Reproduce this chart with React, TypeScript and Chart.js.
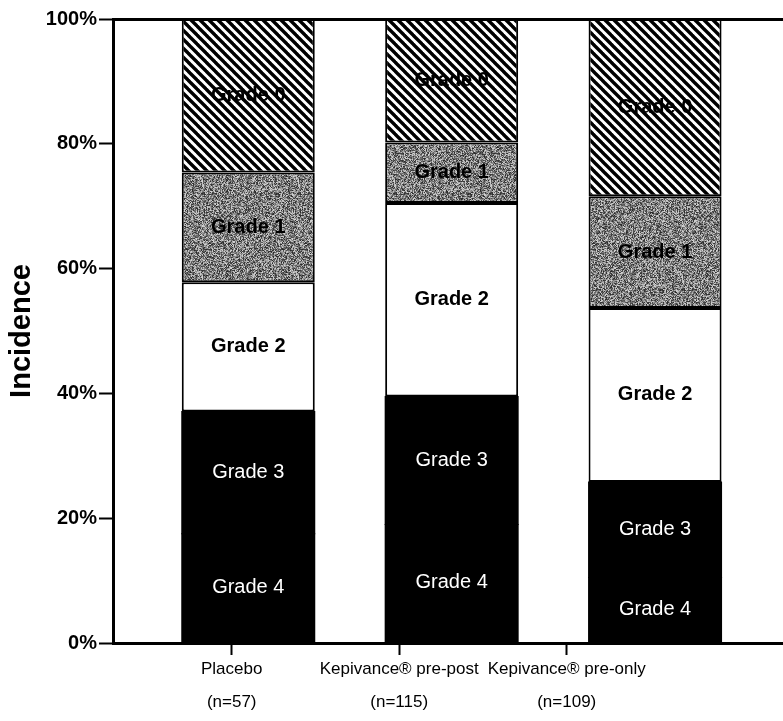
import React, { useEffect, useRef } from "react";
import { Chart, registerables } from "chart.js";

Chart.register(...registerables);

// ---- data ----
const categories = ["Placebo", "Kepivance® pre-post", "Kepivance® pre-only"];
const sampleSizes = ["(n=57)", "(n=115)", "(n=109)"];
const barPositions = [1, 2, 3];
const labelPositions = [1, 2, 3];
const gradeNames = ["Grade 4", "Grade 3", "Grade 2", "Grade 1", "Grade 0"];
const grade4 = [17.5, 19.0, 10.5];
const grade3 = [19.6, 20.5, 15.3];
const grade2 = [20.7, 31.0, 27.9];
const grade1 = [17.6, 9.7, 17.9];
const grade0 = [24.6, 19.8, 28.4];
const yTicks = [0, 20, 40, 60, 80, 100];
const yTitle = "Incidence";

const FONT = "'Liberation Sans', Arial, sans-serif";

function makeHatch(ctx: CanvasRenderingContext2D): CanvasPattern | string {
  const c = document.createElement("canvas");
  const s = 9;
  c.width = s;
  c.height = s;
  const g = c.getContext("2d");
  if (!g) return "#444";
  g.fillStyle = "#fff";
  g.fillRect(0, 0, s, s);
  g.strokeStyle = "#000";
  g.lineWidth = 3.4;
  for (const x0 of [-s, 0, s]) {
    g.beginPath();
    g.moveTo(x0 - 1, -1);
    g.lineTo(x0 + s + 1, s + 1);
    g.stroke();
  }
  return ctx.createPattern(c, "repeat") || "#444";
}

function makeSpeckle(ctx: CanvasRenderingContext2D): CanvasPattern | string {
  const c = document.createElement("canvas");
  const n = 96;
  c.width = n;
  c.height = n;
  const g = c.getContext("2d");
  if (!g) return "#888";
  const img = g.createImageData(n, n);
  let seed = 987654321;
  for (let p = 0; p < n * n; p++) {
    seed = (Math.imul(seed, 1103515245) + 12345) >>> 0;
    const r = (seed >>> 16) & 255;
    const v = Math.round(40 + r * 0.68);
    img.data[p * 4] = v;
    img.data[p * 4 + 1] = v;
    img.data[p * 4 + 2] = v;
    img.data[p * 4 + 3] = 255;
  }
  g.putImageData(img, 0, 0);
  return ctx.createPattern(c, "repeat") || "#888";
}

const segmentLabelPlugin = {
  id: "segmentLabels",
  afterDatasetsDraw(chart: any) {
    const ctx = chart.ctx as CanvasRenderingContext2D;
    chart.data.datasets.forEach((_ds: any, k: number) => {
      const meta = chart.getDatasetMeta(k);
      meta.data.forEach((el: any) => {
        const { x, y, base } = el.getProps(["x", "y", "base"], true);
        const white = k <= 1;
        ctx.save();
        ctx.font = `${white ? "normal" : "bold"} 20px ${FONT}`;
        ctx.fillStyle = white ? "#fff" : "#000";
        ctx.textAlign = "center";
        ctx.textBaseline = "middle";
        ctx.fillText(gradeNames[k], x, (y + base) / 2);
        ctx.restore();
      });
    });
  },
};

const yTitlePlugin = {
  id: "yTitle",
  afterDraw(chart: any) {
    const ctx = chart.ctx as CanvasRenderingContext2D;
    const area = chart.chartArea;
    ctx.save();
    ctx.translate(22, (area.top + area.bottom) / 2);
    ctx.rotate(-Math.PI / 2);
    ctx.font = `bold 29px ${FONT}`;
    ctx.fillStyle = "#000";
    ctx.textAlign = "center";
    ctx.textBaseline = "middle";
    ctx.fillText(yTitle, 0, 0);
    ctx.restore();
  },
};

export default function App() {
  const ref = useRef<HTMLCanvasElement | null>(null);

  useEffect(() => {
    document.body.style.margin = "0";
    const canvas = ref.current;
    if (!canvas) return;
    const ctx = canvas.getContext("2d");
    if (!ctx) return;
    const hatch = makeHatch(ctx);
    const speckle = makeSpeckle(ctx);
    const series = [grade4, grade3, grade2, grade1, grade0];
    const fills: any[] = ["#000", "#000", "#fff", speckle, hatch];

    const chart = new Chart(canvas, {
      type: "bar",
      data: {
        datasets: series.map((vals, k) => ({
          label: gradeNames[k],
          data: vals.map((v, i) => ({ x: barPositions[i], y: v })),
          backgroundColor: fills[k],
          borderColor: "#000",
          borderWidth: k <= 1 ? 0 : 2,
          borderSkipped: false,
          inflateAmount: k <= 1 ? 0.5 : 0,
          barThickness: 133,
          xAxisID: "xb",
          yAxisID: "y",
          stack: "grades",
        })),
      } as any,
      options: {
        responsive: false,
        animation: false,
        events: [],
        layout: { padding: { top: 19, right: 0, left: 0, bottom: 0 } },
        plugins: {
          legend: { display: false },
          tooltip: { enabled: false },
        },
        scales: {
          xb: {
            type: "linear",
            display: false,
            stacked: true,
            offset: false,
            grid: { offset: false },
            min: 0.335,
            max: 3.629,
          },
          x: {
            type: "linear",
            position: "bottom",
            offset: false,
            min: 0.2913,
            max: 4.2913,
            afterBuildTicks: (s: any) => {
              s.ticks = labelPositions.map((v) => ({ value: v }));
            },
            afterFit: (s: any) => {
              s.height = 78;
            },
            ticks: {
              autoSkip: false,
              maxRotation: 0,
              minRotation: 0,
              padding: -2,
              color: "#000",
              font: { family: FONT, size: 17, lineHeight: 1.94 },
              callback: (_v: any, i: number) => [categories[i], sampleSizes[i]],
            },
            grid: {
              offset: false,
              drawOnChartArea: false,
              drawTicks: true,
              tickLength: 12,
              tickWidth: 2,
              tickColor: "#000",
            },
            border: { display: true, color: "#000", width: 3 },
          },
          y: {
            type: "linear",
            stacked: true,
            min: 0,
            max: 100,
            afterBuildTicks: (s: any) => {
              s.ticks = yTicks.map((v) => ({ value: v }));
            },
            afterFit: (s: any) => {
              s.width = 113;
            },
            ticks: {
              padding: 2,
              color: "#000",
              font: { family: FONT, size: 20, weight: "bold" },
              callback: (v: any) => `${v}%`,
            },
            grid: {
              drawOnChartArea: true,
              color: (c: any) => (c.tick && c.tick.value === 100 ? "#000" : "rgba(0,0,0,0)"),
              lineWidth: 3,
              drawTicks: true,
              tickLength: 14,
              tickWidth: 2,
              tickColor: "#000",
            },
            border: { display: true, color: "#000", width: 3 },
          },
        } as any,
      },
      plugins: [segmentLabelPlugin, yTitlePlugin],
    });

    return () => chart.destroy();
  }, []);

  return (
    <div style={{ width: 783, height: 721 }}>
      <canvas ref={ref} width={783} height={721} style={{ display: "block", width: 783, height: 721 }} />
    </div>
  );
}
